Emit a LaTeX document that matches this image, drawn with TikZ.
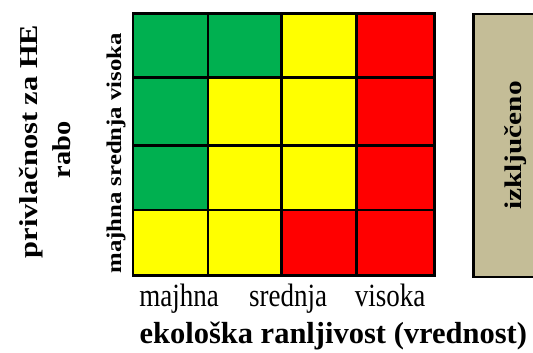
\documentclass[tikz,border=0pt]{standalone}
\usepackage{fontspec}
\setmainfont{Liberation Serif}
\definecolor{grn}{HTML}{00B050}
\definecolor{yel}{HTML}{FFFF00}
\definecolor{rd}{HTML}{FF0000}
\definecolor{boxtan}{HTML}{C4BD97}
\begin{document}
\begin{tikzpicture}[x=1pt,y=-1pt,
  cell/.style={draw=black, line width=2.5pt, anchor=north west, inner sep=0pt, outer sep=0pt},
  ca/.style={minimum width=75pt},
  cb/.style={minimum width=73.3pt},
  cc/.style={minimum width=75.4pt},
  cd/.style={minimum width=77.6pt},
  ra/.style={minimum height=64pt},
  rb/.style={minimum height=68pt},
  rc/.style={minimum height=64.7pt},
  rd/.style={minimum height=65.7pt},
  axlab/.style={anchor=base, inner sep=0pt, font=\fontsize{27}{32}\selectfont},
  sidelab/.style={anchor=base, inner sep=0pt, rotate=90}
]
\useasboundingbox (0,0) rectangle (533,353);
% row 1
\node[cell,ca,ra,fill=grn] (c11) at (133,13.3) {};
\node[cell,cb,ra,fill=grn] (c12) at (208,13.3) {};
\node[cell,cc,ra,fill=yel] (c13) at (281.3,13.3) {};
\node[cell,cd,ra,fill=rd]  (c14) at (356.7,13.3) {};
% row 2
\node[cell,ca,rb,fill=grn] (c21) at (133,77.3) {};
\node[cell,cb,rb,fill=yel] (c22) at (208,77.3) {};
\node[cell,cc,rb,fill=yel] (c23) at (281.3,77.3) {};
\node[cell,cd,rb,fill=rd]  (c24) at (356.7,77.3) {};
% row 3
\node[cell,ca,rc,fill=grn] (c31) at (133,145.3) {};
\node[cell,cb,rc,fill=yel] (c32) at (208,145.3) {};
\node[cell,cc,rc,fill=yel] (c33) at (281.3,145.3) {};
\node[cell,cd,rc,fill=rd]  (c34) at (356.7,145.3) {};
% row 4
\node[cell,ca,rd,fill=yel] (c41) at (133,210) {};
\node[cell,cb,rd,fill=yel] (c42) at (208,210) {};
\node[cell,cc,rd,fill=rd]  (c43) at (281.3,210) {};
\node[cell,cd,rd,fill=rd]  (c44) at (356.7,210) {};
% excluded box
\node[cell,fill=boxtan,minimum width=84pt,minimum height=263pt] (exc) at (473.3,14) {};
\node[inner sep=0pt, rotate=90, font=\bfseries\fontsize{24}{28}\selectfont] (exct) at (exc.center) {\scalebox{1.22}[1]{izključeno}};
% bottom axis labels
\node[axlab] (xl1) at (179,306.7) {\scalebox{1}[1.2]{majhna}};
\node[axlab] (xl2) at (288,306.7) {\scalebox{1}[1.2]{srednja}};
\node[axlab] (xl3) at (390,306.7) {\scalebox{1}[1.2]{visoka}};
\node[anchor=base, inner sep=0pt, font=\bfseries\fontsize{30.5}{36}\selectfont] (xt) at (333.3,343) {ekološka ranljivost (vrednost)};
% left labels
\node[sidelab, font=\bfseries\fontsize{21}{25}\selectfont] (yl) at (121,153.3) {\scalebox{1.18}[1]{majhna srednja visoka}};
\node[sidelab, font=\bfseries\fontsize{25.8}{30}\selectfont] (yt1) at (37,141.5) {\scalebox{1.18}[1]{privlačnost za HE}};
\node[sidelab, font=\bfseries\fontsize{25.8}{30}\selectfont] (yt2) at (70,150) {\scalebox{1.1}[1]{rabo}};
\end{tikzpicture}
\end{document}
